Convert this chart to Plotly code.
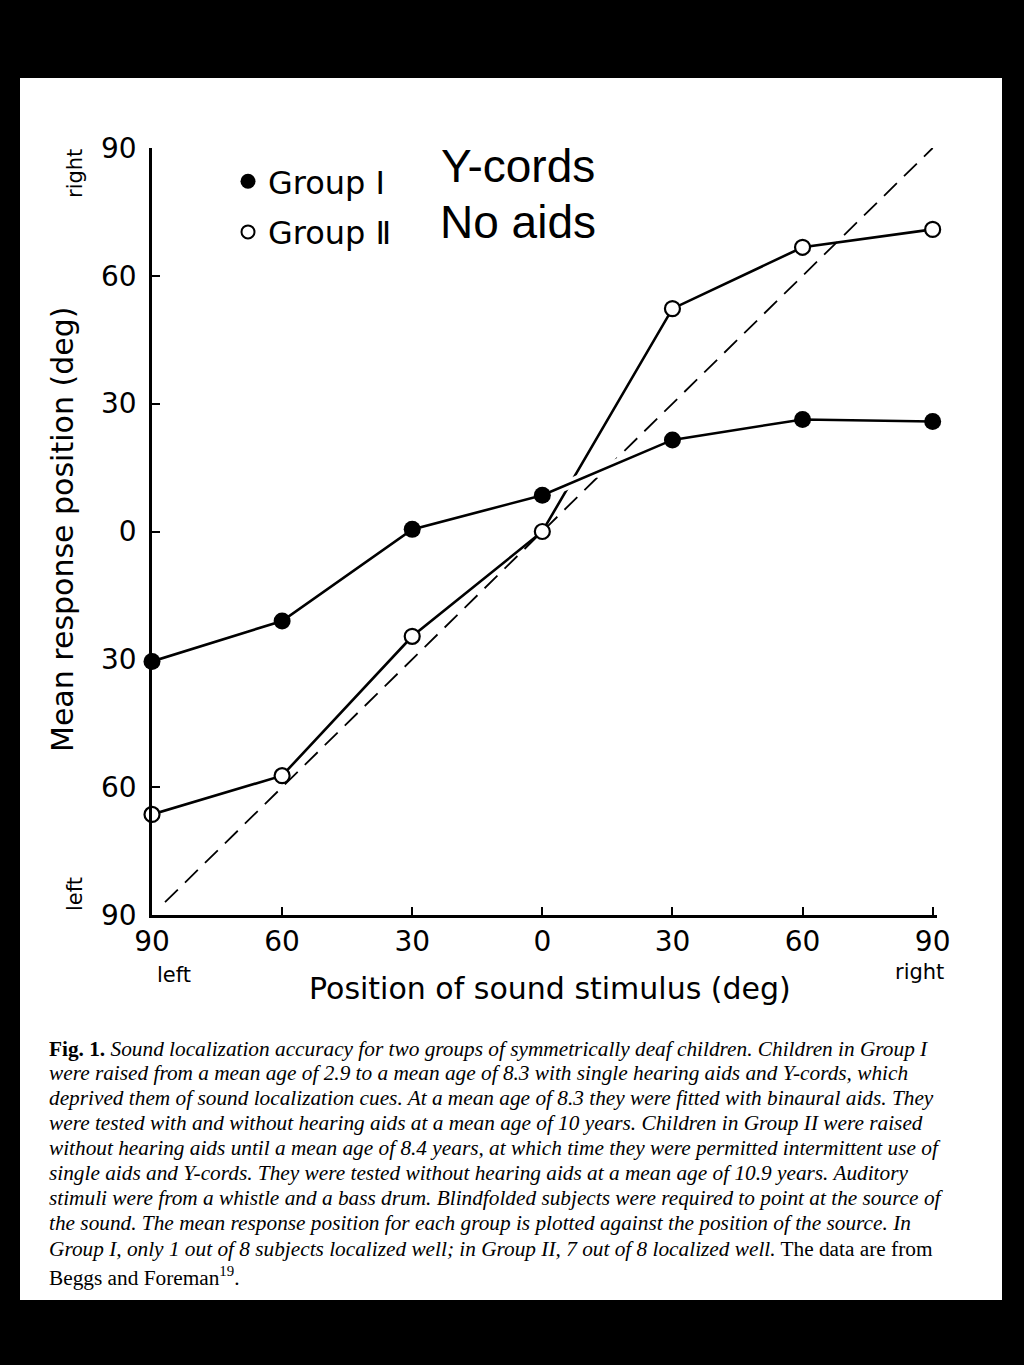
import plotly.graph_objects as go

# ---- data ----
stimulus_deg = [-90, -60, -30, 0, 30, 60, 90]
group1_response = [-30.5, -21.0, 0.5, 8.5, 21.5, 26.3, 25.8]
group2_response = [-66.4, -57.3, -24.6, 0.0, 52.3, 66.7, 70.9]
identity_line = [-87, 90]
tick_vals = [-90, -60, -30, 0, 30, 60, 90]
tick_text = ["90", "60", "30", "0", "30", "60", "90"]
series_names = ["Group Ⅰ", "Group Ⅱ"]

caption_lines = [
    "<b>Fig. 1.</b> <i>Sound localization accuracy for two groups of symmetrically deaf children. Children in Group I</i>",
    "<i>were raised from a mean age of 2.9 to a mean age of 8.3 with single hearing aids and Y-cords, which</i>",
    "<i>deprived them of sound localization cues. At a mean age of 8.3 they were fitted with binaural aids. They</i>",
    "<i>were tested with and without hearing aids at a mean age of 10 years. Children in Group II were raised</i>",
    "<i>without hearing aids until a mean age of 8.4 years, at which time they were permitted intermittent use of</i>",
    "<i>single aids and Y-cords. They were tested without hearing aids at a mean age of 10.9 years. Auditory</i>",
    "<i>stimuli were from a whistle and a bass drum. Blindfolded subjects were required to point at the source of</i>",
    "<i>the sound. The mean response position for each group is plotted against the position of the source. In</i>",
    "<i>Group I, only 1 out of 8 subjects localized well; in Group II, 7 out of 8 localized well.</i> The data are from",
    "Beggs and Foreman<sup>19</sup>.",
]

# ---- layout geometry (pixels) ----
W, H = 1024, 1365
L, R, T, B = 152, 87, 148, 450
PW = W - L - R
PH = H - T - B


def px(x):
    return (x - L) / PW


def py(y):
    return (H - B - y) / PH


SANS = "DejaVu Sans"
SERIF = "Liberation Serif"

fig = go.Figure()

# identity (perfect localization) line
fig.add_trace(go.Scatter(
    x=identity_line, y=identity_line, mode="lines",
    line=dict(color="black", width=1.8, dash="18px,10px"),
    showlegend=False, hoverinfo="skip", cliponaxis=False))

# Group II (open circles)
fig.add_trace(go.Scatter(
    x=stimulus_deg, y=group2_response, mode="lines+markers",
    line=dict(color="black", width=2.6),
    marker=dict(symbol="circle", size=15, color="white", line=dict(color="black", width=2.2)),
    showlegend=False, cliponaxis=False))

# white halo under Group I line (line break where curves cross)
fig.add_trace(go.Scatter(
    x=stimulus_deg, y=group1_response, mode="lines",
    line=dict(color="white", width=10),
    showlegend=False, hoverinfo="skip", cliponaxis=False))

# Group I (filled circles)
fig.add_trace(go.Scatter(
    x=stimulus_deg, y=group1_response, mode="lines+markers",
    line=dict(color="black", width=2.6),
    marker=dict(symbol="circle", size=17, color="black"),
    showlegend=False, cliponaxis=False))

# legend entries
fig.add_trace(go.Scatter(
    x=[None], y=[None], mode="markers", name=series_names[0], legendgroup="g1",
    marker=dict(symbol="circle", size=15, color="black")))
fig.add_trace(go.Scatter(
    x=[None], y=[None], mode="markers", name=series_names[1], legendgroup="g2",
    marker=dict(symbol="circle", size=13, color="white", line=dict(color="black", width=2))))

axis_common = dict(
    showgrid=False, zeroline=False, showline=True, linecolor="black", linewidth=2.6,
    ticks="inside", ticklen=8, tickwidth=2, tickcolor="black",
    tickvals=tick_vals, ticktext=tick_text,
    tickfont=dict(family=SANS, size=28, color="black"),
)

fig.update_xaxes(range=[-90, 91], ticklabelstandoff=0, **axis_common)
fig.update_yaxes(range=[-90, 90], ticklabelstandoff=7, **axis_common)

annotations = []
# axis titles
annotations.append(dict(text="Mean response position (deg)", x=px(62), y=py(530),
                        textangle=-90, font=dict(family=SANS, size=30, color="black")))
annotations.append(dict(text="Position of sound stimulus (deg)", x=px(550), y=py(988),
                        font=dict(family=SANS, size=30, color="black")))
annotations.append(dict(text="right", x=px(75), y=py(174), textangle=-90,
                        font=dict(family=SANS, size=21, color="black")))
annotations.append(dict(text="left", x=px(75), y=py(894), textangle=-90,
                        font=dict(family=SANS, size=21, color="black")))
annotations.append(dict(text="left", x=px(174), y=py(975),
                        font=dict(family=SANS, size=21, color="black")))
annotations.append(dict(text="right", x=px(919), y=py(972),
                        font=dict(family=SANS, size=21, color="black")))
# overlay labels
annotations.append(dict(text="Y-cords", x=px(518), y=py(166),
                        font=dict(family="Liberation Sans", size=46, color="black")))
annotations.append(dict(text="No aids", x=px(518), y=py(222),
                        font=dict(family="Liberation Sans", size=46, color="black")))
# caption
caption_y = [1049, 1073, 1098, 1123, 1148, 1173, 1198, 1223, 1249, 1276]
for line, yy in zip(caption_lines, caption_y):
    annotations.append(dict(text=line, x=px(47), y=py(yy), xanchor="left",
                            font=dict(family=SERIF, size=21.3, color="black")))

for a in annotations:
    a.setdefault("xref", "paper")
    a.setdefault("yref", "paper")
    a.setdefault("showarrow", False)
    a.setdefault("xanchor", "center")
    a.setdefault("yanchor", "middle")

fig.update_layout(
    width=W, height=H,
    margin=dict(l=L, r=R, t=T, b=B, pad=0),
    paper_bgcolor="black",
    plot_bgcolor="white",
    annotations=annotations,
    shapes=[dict(type="rect", xref="paper", yref="paper",
                 x0=px(20), x1=px(1002), y0=py(1300), y1=py(78),
                 fillcolor="white", line=dict(width=0), layer="below")],
    legend=dict(x=px(228), y=py(154), xanchor="left", yanchor="top",
                bgcolor="rgba(0,0,0,0)", font=dict(family=SANS, size=32, color="black"),
                tracegroupgap=6, itemwidth=30),
    showlegend=True,
)

fig.write_html(
    "out.html",
    config={"displayModeBar": False},
    post_script="document.body.style.margin='0';document.body.style.background='black';",
)
